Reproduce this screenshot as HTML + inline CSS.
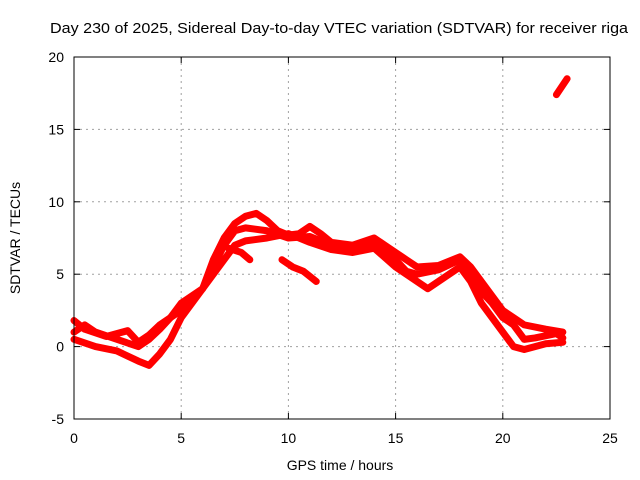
<!DOCTYPE html>
<html><head><meta charset="utf-8"><style>
body{margin:0;background:#fff;}
svg{display:block;font-family:"Liberation Sans",sans-serif;}
</style></head><body>
<svg id="chart" width="640" height="480">
<rect width="640" height="480" fill="#fff"/>
<text x="50" y="33" font-size="15" textLength="578" lengthAdjust="spacingAndGlyphs">Day 230 of 2025, Sidereal Day-to-day VTEC variation (SDTVAR) for receiver riga</text>
<g id="grid"></g><g id="series"></g><g id="axes"></g>
<text x="340" y="470" font-size="14" text-anchor="middle">GPS time / hours</text>
<text transform="translate(20,238) rotate(-90)" font-size="14" text-anchor="middle">SDTVAR / TECUs</text>
</svg>
<script>
const xTicks=[0,5,10,15,20,25];
const yTicks=[-5,0,5,10,15,20];
const trackA=[[0,1],[0.5,1.5],[1,1.0],[2,0.5],[3,0],[3.5,0.5],[4,1.2],[4.5,2],[5,3],[6,4],[6.5,6],[7,7.5],[7.5,8.5],[8,9],[8.5,9.2],[9,8.7],[9.5,8],[10,7.7],[10.5,7.8],[11,8.3],[11.5,7.8],[12,7.2],[13,7],[14,7.5],[14.5,7],[15,6.5],[15.5,6],[16,5.5],[17,5.6],[18,6.2],[18.5,5.5],[19,4.5],[19.5,3.5],[20,2.5],[20.5,2],[21,1.5],[22,1.2],[22.8,1.0]];
const trackB=[[0,0.5],[1,0],[2,-0.3],[3,-1],[3.5,-1.3],[4,-0.5],[4.5,0.5],[5,2],[5.5,3],[6,4],[6.5,5],[7,6],[7.5,7],[8,7.3],[9,7.5],[10,7.8],[11,7.2],[12,6.7],[13,6.5],[14,6.8],[15,5.5],[16,4.5],[16.5,4],[17,4.5],[17.5,5],[18,5.5],[18.5,4.5],[19,3],[19.5,2],[20,1],[20.5,0],[21,-0.2],[22,0.2],[22.8,0.3]];
const trackC=[[0,1.8],[0.5,1.2],[1.5,0.7],[2.5,1.1],[3,0.3],[3.5,0.8],[4,1.5],[5,2.5],[6,4],[6.5,5.5],[7,7],[7.5,8],[8,8.2],[9,8],[10,7.5],[11,7.6],[12,7.0],[13,6.8],[14,7.2],[15,6],[15.5,5.2],[16,5],[17,5.3],[18,6],[18.5,5],[19,3.8],[19.5,3],[20,2],[20.5,1.5],[21,0.5],[21.5,0.6],[22.5,0.9],[22.8,0.6]];
const trackD=[[9.7,6],[10.2,5.5],[10.7,5.2],[11.3,4.5]];
const trackE=[[7.2,6.8],[7.8,6.5],[8.2,6.0]];
const trackF=[[22.5,17.4],[23,18.5]];
const tracks=[trackA,trackB,trackC,trackD,trackE,trackF];
const X0=74,X1=610,Y0=419,Y1=57;
const xs=v=>X0+(v-0)/25*(X1-X0);
const ys=v=>Y0-(v+5)/25*(Y0-Y1);
const NS="http://www.w3.org/2000/svg";
function mk(t,a,p){const e=document.createElementNS(NS,t);for(const k in a)e.setAttribute(k,a[k]);p.appendChild(e);return e;}
const grid=document.getElementById('grid'),axes=document.getElementById('axes'),ser=document.getElementById('series');
xTicks.forEach(v=>{
 if(v>0&&v<25){const l=mk('line',{x1:xs(v),x2:xs(v),y1:Y1,y2:Y0,stroke:'#a0a0a0','stroke-dasharray':'2,4'},grid);
 }
 const t=mk('text',{x:xs(v),y:Y0+24,'font-size':14,'text-anchor':'middle'},axes);t.textContent=v;
 
 mk('line',{x1:xs(v),x2:xs(v),y1:Y0,y2:Y0-6,stroke:'#000'},axes);
 mk('line',{x1:xs(v),x2:xs(v),y1:Y1,y2:Y1+6,stroke:'#000'},axes);
});
yTicks.forEach(v=>{
 if(v>-5&&v<20){const l=mk('line',{x1:X0,x2:X1,y1:ys(v),y2:ys(v),stroke:'#a0a0a0','stroke-dasharray':'2,4'},grid);
 }
 const t=mk('text',{x:X0-10,y:ys(v)+5,'font-size':14,'text-anchor':'end'},axes);t.textContent=v;
 
 mk('line',{x1:X0,x2:X0+6,y1:ys(v),y2:ys(v),stroke:'#000'},axes);
 mk('line',{x1:X1,x2:X1-6,y1:ys(v),y2:ys(v),stroke:'#000'},axes);
});
const fr=mk('rect',{x:X0,y:Y1,width:X1-X0,height:Y0-Y1,fill:'none',stroke:'#000'},axes);

tracks.forEach(tr=>{
 const p=mk('polyline',{points:tr.map(d=>xs(d[0])+','+ys(d[1])).join(' '),fill:'none',stroke:'#ff0000','stroke-width':7,'stroke-linejoin':'round','stroke-linecap':'round'},ser);
 
 
});
</script>
</body></html>
